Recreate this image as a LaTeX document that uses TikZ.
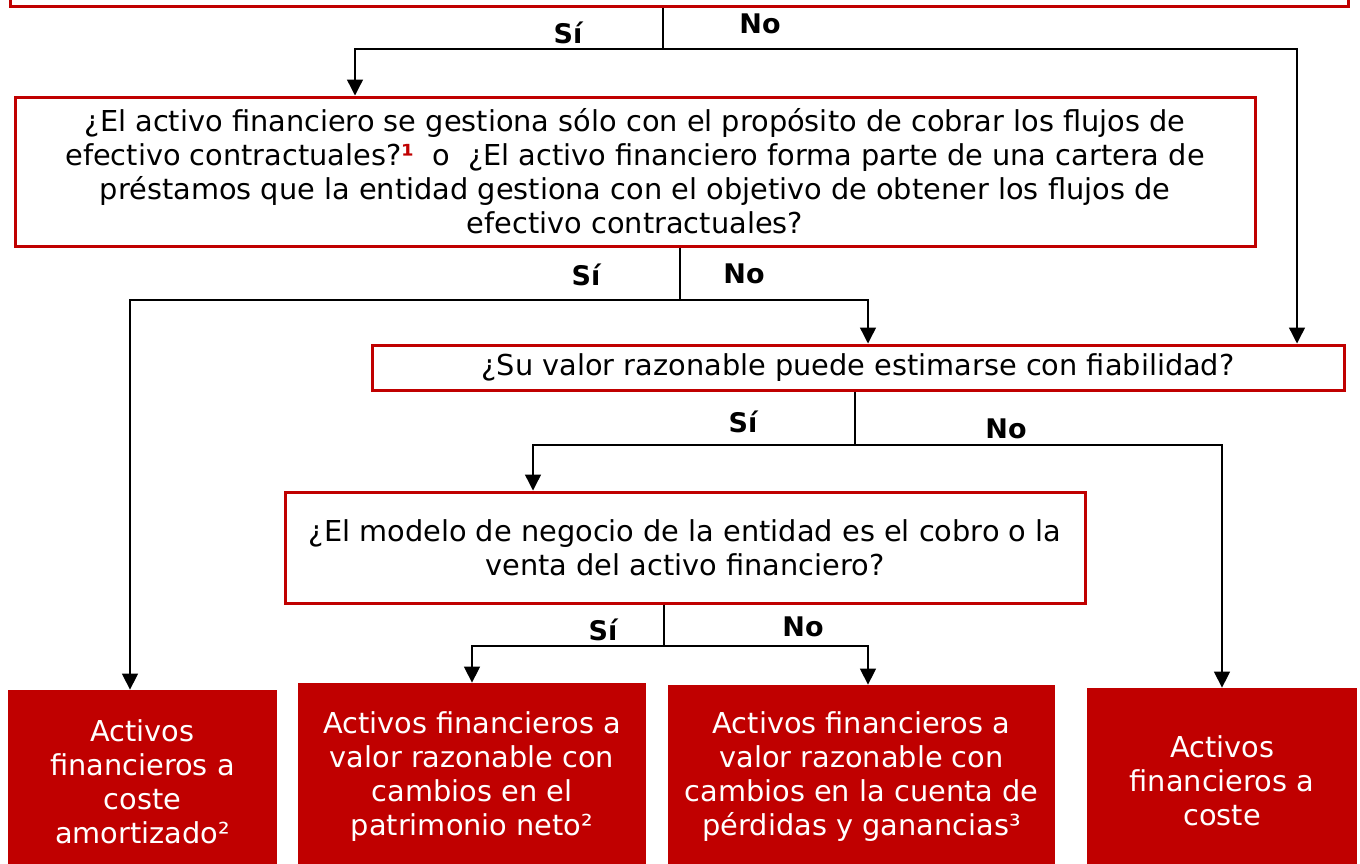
\documentclass[tikz,border=0pt]{standalone}
\usepackage{fontspec}
\setmainfont{DejaVu Sans}
\usepackage{tikz}
\usetikzlibrary{positioning, arrows.meta, calc}
\definecolor{rojo}{HTML}{C00000}

\tikzset{
    pregunta/.style={draw=rojo, line width=1.5pt, fill=white, align=center, inner sep=0pt},
    resultado/.style={fill=rojo, text=white, align=center, inner sep=0pt},
    etiqueta/.style={font=\fontsize{13.5}{16}\selectfont\bfseries},
    flecha/.style={-{Triangle[length=8pt, width=8pt]}, line width=0.7pt},
    linea/.style={line width=0.7pt}
}

\begin{document}
\begin{tikzpicture}[x=0.5pt, y=-0.5pt, font=\fontsize{14.4}{17}\selectfont]

    \useasboundingbox (0,0) rectangle (1360,863);
    \clip (0,0) rectangle (1360,863);

    % Cajas de preguntas
    \node[pregunta, minimum width=669pt, minimum height=18pt] (top) at (679,-12) {};
    \node[pregunta, minimum width=620pt, minimum height=74.5pt] (q1) at (635,171.5)
        {¿El activo financiero se gestiona sólo con el propósito de cobrar los flujos de\\
         efectivo contractuales?{\color{rojo}\bfseries ¹}\ \ o\ \ ¿El activo financiero forma parte de una cartera de\\
         préstamos que la entidad gestiona con el objetivo de obtener los flujos de\\
         efectivo contractuales?};
    \node[pregunta, minimum width=486pt, minimum height=22.5pt] (q2) at (858,367.5)
        {¿Su valor razonable puede estimarse con fiabilidad?};
    \node[pregunta, minimum width=400pt, minimum height=55.5pt] (q3) at (685,547.5)
        {¿El modelo de negocio de la entidad es el cobro o la\\venta del activo financiero?};

    % Cajas de resultados
    \node[resultado, minimum width=134.5pt, minimum height=92pt] (r1) at (142.5,782)
        {Activos\\financieros a\\coste\\amortizado²};
    \node[resultado, minimum width=174pt, minimum height=94pt] (r2) at (472,777)
        {Activos financieros a\\valor razonable con\\cambios en el\\patrimonio neto²};
    \node[resultado, minimum width=193.5pt, minimum height=92pt] (r3) at (861.5,777)
        {Activos financieros a\\valor razonable con\\cambios en la cuenta de\\pérdidas y ganancias³};
    \node[resultado, minimum width=135pt, minimum height=92.5pt] (r4) at (1222,780.5)
        {Activos\\financieros a\\coste};

    % Puntos de bifurcación
    \coordinate (t1) at (663,49);
    \coordinate (c1) at (355,49);
    \coordinate (c2) at (1297,49);
    \coordinate (t2) at (680,300);
    \coordinate (c3) at (130,300);
    \coordinate (c4) at (868,300);
    \coordinate (t3) at (855,445);
    \coordinate (c5) at (533,445);
    \coordinate (c6) at (1222,445);
    \coordinate (t4) at (664,646);
    \coordinate (c7) at (472,646);
    \coordinate (c8) at (868,646);

    % Conectores
    \draw[linea] (top.south -| t1) -- (t1);
    \draw[flecha] (t1) -- (c1) -- (c1 |- q1.north);
    \draw[flecha] (t1) -- (c2) -- (c2 |- q2.north);

    \draw[linea] (q1.south -| t2) -- (t2);
    \draw[flecha] (t2) -- (c3) -- (c3 |- r1.north);
    \draw[flecha] (t2) -- (c4) -- (c4 |- q2.north);

    \draw[linea] (q2.south -| t3) -- (t3);
    \draw[flecha] (t3) -- (c5) -- (c5 |- q3.north);
    \draw[flecha] (t3) -- (c6) -- (c6 |- r4.north);

    \draw[linea] (q3.south -| t4) -- (t4);
    \draw[flecha] (t4) -- (c7) -- (c7 |- r2.north);
    \draw[flecha] (t4) -- (c8) -- (c8 |- r3.north);

    % Etiquetas Sí / No
    \node[etiqueta] (si1) at (568,33) {Sí};
    \node[etiqueta] (no1) at (760,24) {No};
    \node[etiqueta] (si2) at (586,275) {Sí};
    \node[etiqueta] (no2) at (744,274) {No};
    \node[etiqueta] (si3) at (743,422) {Sí};
    \node[etiqueta] (no3) at (1006,429) {No};
    \node[etiqueta] (si4) at (603,630) {Sí};
    \node[etiqueta] (no4) at (803,627) {No};

\end{tikzpicture}
\end{document}
